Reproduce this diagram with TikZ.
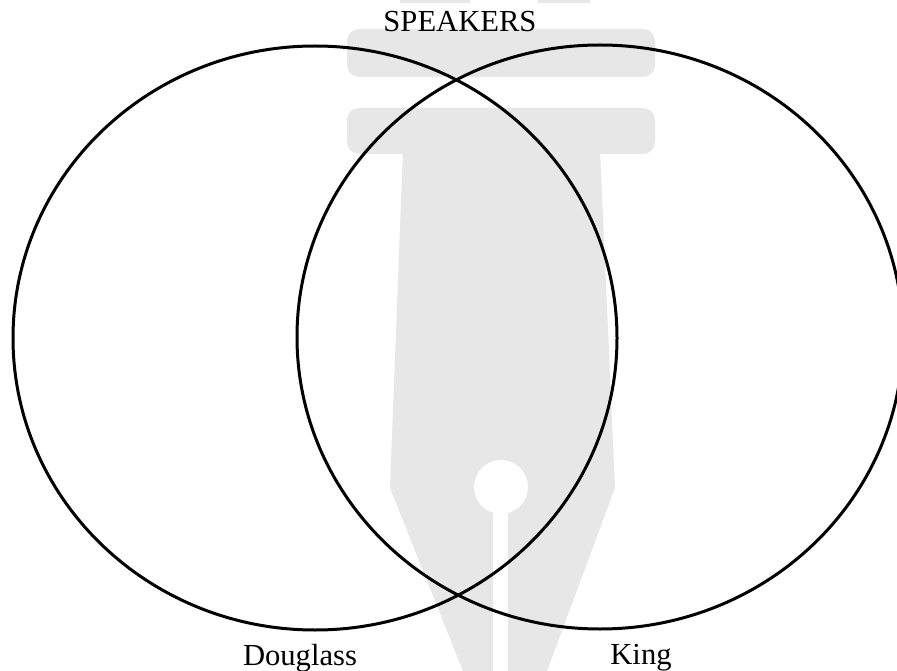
\documentclass[tikz,border=0pt]{standalone}
\usepackage{fontspec}
\setmainfont{Liberation Serif}
\usetikzlibrary{shapes.geometric}
\definecolor{wmgray}{RGB}{231,231,231}
\tikzset{
  setcircle/.style={draw=black, line width=3pt, ellipse, inner sep=0pt, fill=none},
  label/.style={anchor=base, inner sep=0pt, font=\fontsize{30.6}{36}\selectfont},
  wm/.style={fill=wmgray, draw=none}
}
\begin{document}
\begin{tikzpicture}[x=1pt,y=-1pt]
\useasboundingbox (0,0) rectangle (897,671);
\fill[white] (0,0) rectangle (897,671);
% faint watermark (pen nib)
\fill[wm] (400,0) rectangle (470,3);
\fill[wm] (538,0) rectangle (590,3);
\fill[wm, rounded corners=12pt] (347,29) rectangle (655,77);
\fill[wm, rounded corners=12pt] (347,108) rectangle (655,154);
\fill[wm] (403,150) -- (600,150) -- (615,488) -- (547,671) -- (463,671) -- (390,488) -- cycle;
\fill[white] (501,487) circle (27);
\fill[white] (493,500) rectangle (508,671);
% Venn circles
\node[setcircle, minimum width=604pt, minimum height=584pt] (douglassC) at (315,338) {};
\node[setcircle, minimum width=606pt, minimum height=584pt] (kingC) at (600,337) {};
% labels
\node[label] (title) at (460,32) {SPEAKERS};
\node[label] (douglass) at (300,665) {Douglass};
\node[label] (king) at (641,664) {King};
\end{tikzpicture}
\end{document}
